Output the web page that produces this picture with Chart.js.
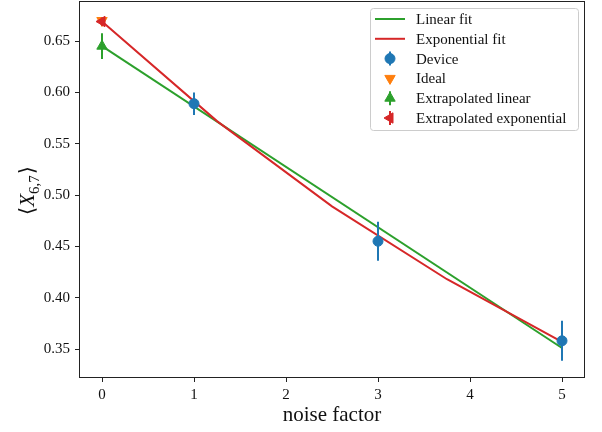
<!DOCTYPE html>
<html>
<head>
<meta charset="utf-8">
<script src="https://cdn.jsdelivr.net/npm/chart.js@4.4.0/dist/chart.umd.min.js"></script>
<style>
html, body { margin: 0; padding: 0; background: #fff; }
#chart { display: block; }
</style>
</head>
<body>
<canvas id="chart" width="602" height="432"></canvas>
<script>
// --- 1. Data ---
const xTicks = [0, 1, 2, 3, 4, 5];
const yTicks = [0.35, 0.40, 0.45, 0.50, 0.55, 0.60, 0.65];
const yTickLabels = ['0.35', '0.40', '0.45', '0.50', '0.55', '0.60', '0.65'];

const deviceX = [1, 3, 5];
const deviceY = [0.589, 0.455, 0.358];
const deviceErr = [0.011, 0.019, 0.0195];

const linearFitX = [0, 5];
const linearFitY = [0.645, 0.351];

const expFitX = [0, 1.25, 2.5, 3.75, 5];
const expFitY = [0.669, 0.572, 0.489, 0.418, 0.357];

const idealX = [0];
const idealY = [0.670];

const extrapLinearX = [0];
const extrapLinearY = [0.645];
const extrapLinearErr = [0.0125];

const extrapExpX = [0];
const extrapExpY = [0.669];
const extrapExpErr = [0.004];

// --- 2. Styles ---
const BLUE = '#1f77b4';
const ORANGE = '#ff7f0e';
const GREEN = '#2ca02c';
const RED = '#d62728';
const SERIF = '"Liberation Serif", "DejaVu Serif", serif';

const toPoints = (xs, ys) => xs.map((x, i) => ({ x: x, y: ys[i] }));

// --- 3. Plugins ---
// vertical error bars, drawn just before the markers of each dataset
const errorBarPlugin = {
    id: 'errorBars',
    beforeDatasetDraw(chart, args) {
        const ds = chart.data.datasets[args.index];
        if (!ds.errors) return;
        const { ctx, scales } = chart;
        ctx.save();
        ctx.strokeStyle = ds.borderColor;
        ctx.lineWidth = 2;
        ds.data.forEach((p, i) => {
            const px = scales.x.getPixelForValue(p.x);
            ctx.beginPath();
            ctx.moveTo(px, scales.y.getPixelForValue(p.y - ds.errors[i]));
            ctx.lineTo(px, scales.y.getPixelForValue(p.y + ds.errors[i]));
            ctx.stroke();
        });
        ctx.restore();
    }
};

// box round the plot area, y label, legend
const decorPlugin = {
    id: 'decor',
    afterDraw(chart) {
        const { ctx, chartArea: a } = chart;
        ctx.save();
        ctx.strokeStyle = '#222';
        ctx.lineWidth = 1;
        ctx.strokeRect(Math.round(a.left) + 0.5, Math.round(a.top) + 0.5,
            Math.round(a.right - a.left) - 1, Math.round(a.bottom - a.top) - 1);

        // y axis label <X_{6,7}>
        ctx.translate(27, 191);
        ctx.rotate(-Math.PI / 2);
        ctx.fillStyle = '#111';
        ctx.textBaseline = 'alphabetic';
        const big = '21px ' + SERIF, ital = 'italic 21px ' + SERIF, small = '15px ' + SERIF;
        const parts = [['\u27E8', big, 0], ['X', ital, 0], ['6,7', small, 5], ['\u27E9', big, 0]];
        let total = 0;
        parts.forEach(p => { ctx.font = p[1]; p.push(ctx.measureText(p[0]).width); total += p[3]; });
        let cx = -total / 2;
        parts.forEach(p => {
            ctx.font = p[1];
            ctx.fillText(p[0], cx + (p[0] === '\u27E9' ? 1 : 0), 7 + p[2]);
            cx += p[3];
        });
        ctx.restore();

        // legend
        ctx.save();
        const bx = 370.5, by = 8.5, bw = 208, bh = 122;
        ctx.fillStyle = 'rgba(255,255,255,0.8)';
        ctx.strokeStyle = '#cccccc';
        ctx.lineWidth = 1;
        ctx.beginPath();
        ctx.roundRect(bx, by, bw, bh, 3);
        ctx.fill();
        ctx.stroke();
        ctx.font = '15px ' + SERIF;
        ctx.textBaseline = 'middle';
        chart.data.datasets.forEach((ds, i) => {
            const y = 19 + i * 19.8;
            if (ds.showLine) {
                ctx.strokeStyle = ds.borderColor;
                ctx.lineWidth = 2;
                ctx.beginPath();
                ctx.moveTo(375, y);
                ctx.lineTo(405, y);
                ctx.stroke();
            } else {
                if (ds.errors) {
                    ctx.strokeStyle = ds.borderColor;
                    ctx.lineWidth = 2;
                    ctx.beginPath();
                    ctx.moveTo(390, y - 7);
                    ctx.lineTo(390, y + 7);
                    ctx.stroke();
                }
                ctx.fillStyle = ds.backgroundColor;
                ctx.strokeStyle = ds.borderColor;
                ctx.lineWidth = 1;
                Chart.helpers.drawPoint(ctx, {
                    pointStyle: ds.pointStyle, rotation: ds.rotation || 0,
                    radius: ds.pointRadius, borderWidth: 1
                }, 390, y);
            }
            ctx.fillStyle = '#111';
            ctx.fillText(ds.label, 416, y + 1);
        });
        ctx.restore();
    }
};

// --- 4. Chart ---
const lineSet = (label, xs, ys, color, order) => ({
    label: label,
    data: toPoints(xs, ys),
    showLine: true,
    borderColor: color,
    backgroundColor: color,
    borderWidth: 2,
    pointRadius: 0,
    tension: 0,
    order: order
});

const markerSet = (label, xs, ys, errs, color, style, rot, radius, order) => ({
    label: label,
    data: toPoints(xs, ys),
    showLine: false,
    errors: errs,
    borderColor: color,
    backgroundColor: color,
    pointStyle: style,
    rotation: rot,
    pointRadius: radius,
    pointBorderWidth: 1,
    order: order
});

const ctx = document.getElementById('chart').getContext('2d');
new Chart(ctx, {
    type: 'scatter',
    data: {
        datasets: [
            lineSet('Linear fit', linearFitX, linearFitY, GREEN, 10),
            lineSet('Exponential fit', expFitX, expFitY, RED, 9),
            markerSet('Device', deviceX, deviceY, deviceErr, BLUE, 'circle', 0, 5, 4),
            markerSet('Ideal', idealX, idealY, null, ORANGE, 'triangle', 180, 6, 3),
            markerSet('Extrapolated linear', extrapLinearX, extrapLinearY, extrapLinearErr, GREEN, 'triangle', 0, 6, 2),
            markerSet('Extrapolated exponential', extrapExpX, extrapExpY, extrapExpErr, RED, 'triangle', 270, 6, 1)
        ]
    },
    options: {
        responsive: false,
        devicePixelRatio: 1,
        animation: false,
        layout: { autoPadding: false, padding: { left: 0, right: 17, top: 1, bottom: 0 } },
        plugins: {
            legend: { display: false },
            tooltip: { enabled: false }
        },
        scales: {
            x: {
                type: 'linear',
                min: -0.25,
                max: 5.25,
                afterBuildTicks: s => { s.ticks = xTicks.map(v => ({ value: v })); },
                afterFit: s => { s.height = 54; s.paddingLeft = 0; s.paddingRight = 0; },
                border: { display: false },
                grid: { drawOnChartArea: false, drawTicks: true, tickLength: 4, color: '#222' },
                ticks: {
                    padding: 4,
                    color: '#111',
                    font: { family: SERIF, size: 15 },
                    callback: v => String(v)
                },
                title: {
                    display: true,
                    text: 'noise factor',
                    color: '#111',
                    font: { family: SERIF, size: 21 },
                    padding: { top: 0, bottom: 4 }
                }
            },
            y: {
                type: 'linear',
                min: 0.3218,
                max: 0.689,
                afterBuildTicks: s => { s.ticks = yTicks.map(v => ({ value: v })); },
                afterFit: s => { s.width = 79; s.paddingTop = 0; s.paddingBottom = 0; },
                border: { display: false },
                grid: { drawOnChartArea: false, drawTicks: true, tickLength: 4, color: '#222' },
                ticks: {
                    padding: 5,
                    color: '#111',
                    font: { family: SERIF, size: 15 },
                    callback: (v, i) => yTickLabels[yTicks.indexOf(v)] ?? v.toFixed(2)
                }
            }
        }
    },
    plugins: [errorBarPlugin, decorPlugin]
});
</script>
</body>
</html>
